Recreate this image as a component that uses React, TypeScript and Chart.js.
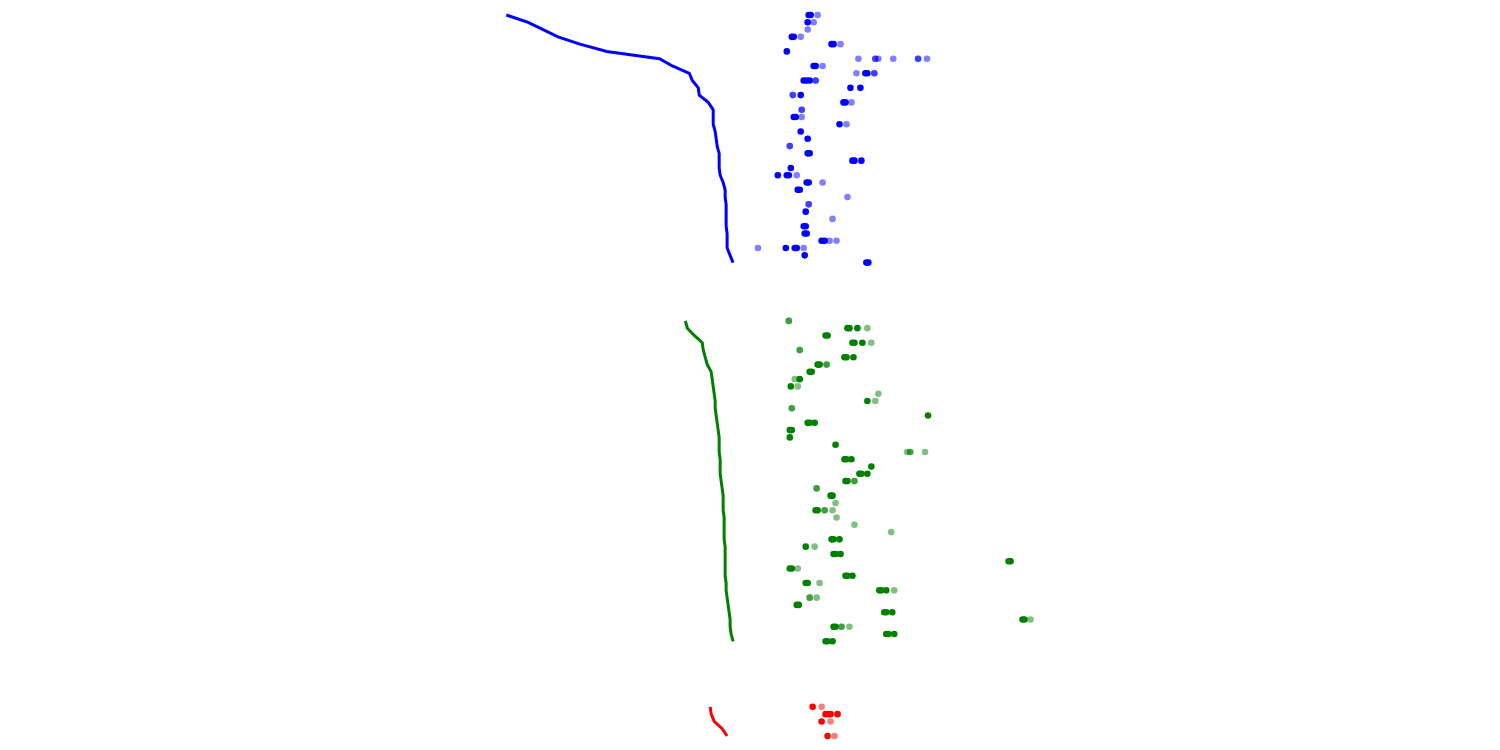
import React, { useEffect, useRef } from "react";
import Chart from "chart.js/auto";

// Row indices: blue rows start at 0, green rows at 42, red rows at 95
const blueStart = 0;
const greenStart = 42;
const redStart = 95;

// Line values per row
const blueLine = [505, 527, 542, 557, 579, 606, 659, 672, 689, 692, 698, 699, 708, 713, 713, 713, 715, 716, 717, 719, 719, 719, 720, 723, 725, 725, 726, 726, 726, 726, 727, 727, 727, 730, 733];
const greenLine = [685, 687, 694, 702, 703, 705, 707, 711, 712, 713, 714, 715, 715, 716, 717, 718, 719, 719, 719, 720, 720, 720, 721, 722, 723, 723, 723, 724, 724, 724, 724, 725, 725, 725, 725, 725, 726, 726, 727, 728, 729, 730, 730, 731, 733];
const redLine = [710, 711, 714, 722, 727];

// Solid (opaque) dots per row
const blueSolid = [
  [809, 811], [808], [], [792, 794], [832, 834], [787], [], [814, 816], [866, 868], [804, 807, 810],
  [851, 861], [801], [844, 846], [], [794, 796], [840], [801], [808], [], [808, 810],
  [853, 855, 862], [791], [778, 787, 789], [807, 809], [798, 800], [], [], [806], [], [804, 806],
  [805, 807], [822, 825], [786, 795, 797], [805], [867, 869],
];
// Faint (translucent) dots per row
const blueFaint = [
  [818], [814], [808], [801], [841], [], [859, 876, 876, 879, 894, 919, 919, 928], [823], [857, 875, 875], [816, 816],
  [], [793, 793], [852], [802, 802], [802], [847], [], [], [790, 790], [],
  [], [], [797], [823], [], [848], [809, 809], [], [833], [],
  [], [830, 837], [758, 804], [], [],
];

const greenSolid = [
  [], [848, 850, 858], [826, 828], [853, 855, 863], [], [845, 847, 854], [818, 820], [810, 812], [800], [791],
  [], [868], [], [929], [808, 810, 815], [790, 792], [790], [836], [], [845, 847, 852],
  [872], [860, 862, 868], [846, 848], [], [831, 833], [], [816, 818], [], [], [],
  [832, 834, 840], [806], [834, 836, 841], [1010, 1012], [790, 792], [846, 848, 853], [806, 808], [880, 882, 887], [], [797, 799],
  [885, 887, 893], [1024, 1026], [834, 836], [887, 889, 895], [826, 828, 833],
];
const greenFaint = [
  [789, 789], [868], [], [872], [800, 800], [], [827, 827], [], [795], [798],
  [879], [876], [792, 792], [], [], [], [], [], [908, 911, 911, 926], [],
  [], [], [855, 855], [817, 817], [], [836], [825, 825, 833], [837], [855], [892],
  [], [815], [], [], [798], [], [820], [895], [810, 810, 817], [],
  [], [1032], [842, 842, 850], [], [],
];

const redSolid = [[813], [826, 829, 831, 838], [822], [], [828]];
const redFaint = [[822], [], [831], [], [835]];

const lineData = (vals: number[], start: number) =>
  vals.map((x, i) => ({ x, y: start + i }));

const dotData = (rows: number[][], start: number) =>
  rows.flatMap((row, i) => row.map((x) => ({ x, y: start + i })));

const lineDs = (vals: number[], start: number, color: string) => ({
  type: "scatter" as const,
  data: lineData(vals, start),
  showLine: true,
  borderColor: color,
  borderWidth: 3,
  pointRadius: 0,
  fill: false,
  clip: false,
});

const dotDs = (rows: number[][], start: number, color: string) => ({
  type: "scatter" as const,
  data: dotData(rows, start),
  backgroundColor: color,
  pointRadius: 3.3,
  pointBorderWidth: 0,
  borderWidth: 0,
  showLine: false,
  clip: false,
});

export default function App() {
  const ref = useRef<HTMLCanvasElement | null>(null);
  useEffect(() => {
    if (!ref.current) return;
    const chart = new Chart(ref.current, {
      type: "scatter",
      data: {
        datasets: [
          lineDs(blueLine, blueStart, "rgb(0,0,255)"),
          lineDs(greenLine, greenStart, "rgb(0,128,0)"),
          lineDs(redLine, redStart, "rgb(255,0,0)"),
          dotDs(blueFaint, blueStart, "rgba(0,0,255,0.5)"),
          dotDs(greenFaint, greenStart, "rgba(0,128,0,0.5)"),
          dotDs(redFaint, redStart, "rgba(255,0,0,0.5)"),
          dotDs(blueSolid, blueStart, "rgb(0,0,255)"),
          dotDs(greenSolid, greenStart, "rgb(0,128,0)"),
          dotDs(redSolid, redStart, "rgb(255,0,0)"),
        ] as any,
      },
      options: {
        animation: false,
        responsive: false,
        layout: { padding: { top: 15, bottom: 14, left: 0, right: 0 } },
        plugins: { legend: { display: false }, tooltip: { enabled: false } },
        scales: {
          x: { type: "linear", min: 0, max: 1500, display: false },
          y: { type: "linear", min: 0, max: 99, reverse: true, display: false },
        },
      },
    });
    return () => chart.destroy();
  }, []);
  return (
    <div style={{ position: "fixed", left: 0, top: 0, width: 1500, height: 750, background: "#fff" }}>
      <canvas ref={ref} width={1500} height={750} />
    </div>
  );
}
